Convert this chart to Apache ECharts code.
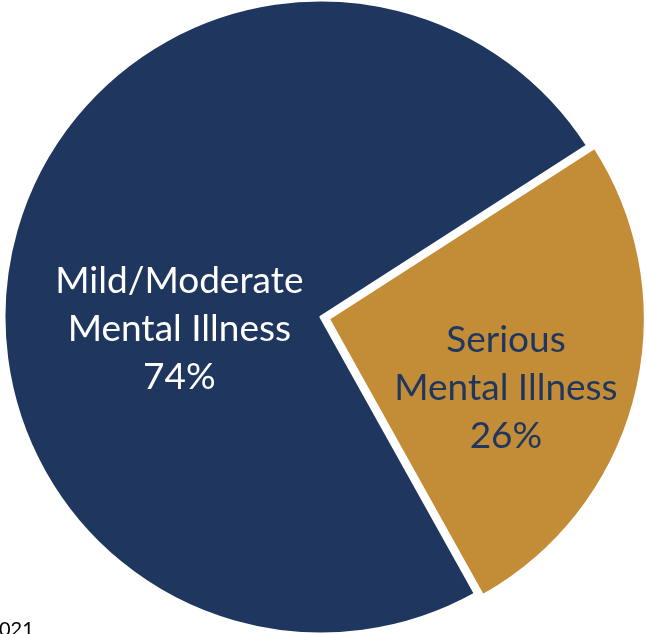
<!DOCTYPE html>
<html>
<head>
<meta charset="utf-8">
<script src="https://cdn.jsdelivr.net/npm/echarts@6/dist/echarts.min.js"></script>
<style>
  html, body { margin: 0; padding: 0; background: #fff; }
  #chart { width: 646px; height: 634px; }
</style>
</head>
<body>
<div id="chart"></div>
<script>
const categories = ['Mild/Moderate\nMental Illness', 'Serious\nMental Illness']
const values = [74, 26]
const colors = ['#1f365f', '#c38c36']
const labelColors = ['#ffffff', '#1f365f']

const chart = echarts.init(document.getElementById('chart'))

// label nudges from the default "inside" spot
const labelShift = [[15, 51], [21, 30]]

const option = {
  animation: false,
  graphic: [{
    type: 'text',
    left: -1,
    top: 620,
    style: { text: '021', fontSize: 20, fill: '#000', fontFamily: 'Lato' }
  }],
  series: [{
    type: 'pie',
    center: [321, 317],
    radius: 317,
    startAngle: 299.15,
    clockwise: true,
    selectedMode: 'single',
    selectedOffset: 7.5,
    avoidLabelOverlap: false,
    labelLine: { show: false },
    itemStyle: { borderColor: '#fff', borderWidth: 3 },
    label: {
      show: true,
      position: 'inside',
      fontFamily: 'Lato',
      fontSize: 37,
      lineHeight: 48,
      align: 'center',
      formatter: p => p.name + '\n' + p.value + '%'
    },
    labelLayout: params => ({
      dx: labelShift[params.dataIndex][0],
      dy: labelShift[params.dataIndex][1]
    }),
    data: categories.map((name, i) => ({
      name,
      value: values[i],
      selected: i === 1,
      itemStyle: { color: colors[i] },
      label: { color: labelColors[i] }
    }))
  }]
}

chart.setOption(option)
</script>
</body>
</html>
